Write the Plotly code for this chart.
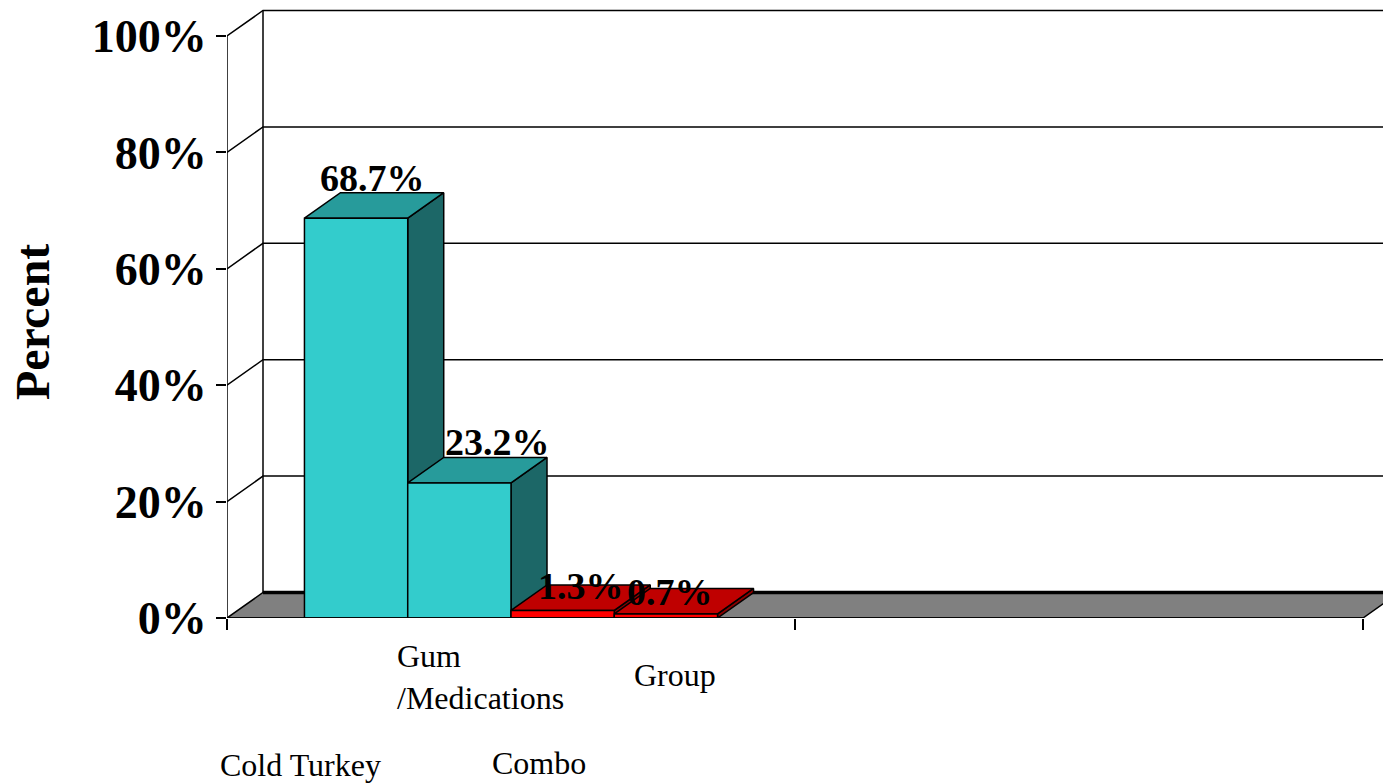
import plotly.graph_objects as go

# Quit-method shares (percent of respondents)
methods = ["Cold Turkey", "Gum\n/Medications", "Combo", "Group"]
shares = [68.7, 23.2, 1.3, 0.7]
value_labels = ["68.7%", "23.2%", "1.3%", "0.7%"]
y_ticks = [0, 20, 40, 60, 80, 100]
y_tick_text = ["0%", "20%", "40%", "60%", "80%", "100%"]

FRONT = ["#33CCCC", "#33CCCC", "#FF0000", "#FF0000"]
TOP = ["#279B9B", "#279B9B", "#BF0000", "#BF0000"]
SIDE = ["#1C6767", "#1C6767", "#8A0000", "#8A0000"]

# figure geometry (pixels)
W, H = 1383, 783
ML, MR, MT, MB = 227, 0, 8, 165
PX_PER_CAT = 568.0
PX_PER_PCT = 5.82
plot_w = W - ML - MR
plot_h = H - MT - MB
X_MAX = plot_w / PX_PER_CAT
Y_MAX = plot_h / PX_PER_PCT

# 3-D depth offset in data units
DX = 36 / PX_PER_CAT
DY = 25.5 / PX_PER_PCT

N_CATS = 2
gap = 1.5
bar_w = 1.0 / (len(shares) + gap)
bar_x0 = [gap / 2 * bar_w + i * bar_w for i in range(len(shares))]

fig = go.Figure()


def poly(xs, ys, fill=None, line_w=1.5, line_color="black"):
    fig.add_trace(go.Scatter(
        x=xs, y=ys, mode="lines",
        fill="toself" if fill else None,
        fillcolor=fill,
        line=dict(color=line_color, width=line_w),
        hoverinfo="skip", showlegend=False,
    ))


# floor
poly([0, N_CATS, N_CATS + DX, X_MAX + DX, DX, 0],
     [0, 0, DY, DY, DY, 0], fill="#808080", line_w=1.5)
# back edge of the floor
poly([DX, X_MAX + DX], [DY, DY], line_w=3.5)

# back wall gridlines and side-wall diagonals
for v in y_ticks[1:]:
    poly([0, DX, X_MAX + DX], [v, v + DY, v + DY], line_w=1.5)
# corner of side and back walls
poly([DX, DX], [DY, 100 + DY], line_w=1.5)
# front value axis
poly([0, 0], [0, 100], line_w=1.5)

# bars: side, top and front face, drawn left to right
for i, v in enumerate(shares):
    x0 = bar_x0[i]
    x1 = x0 + bar_w
    poly([x1, x1 + DX, x1 + DX, x1, x1], [0, DY, v + DY, v, 0], fill=SIDE[i])
    poly([x0, x1, x1 + DX, x0 + DX, x0], [v, v, v + DY, v + DY, v], fill=TOP[i])
    poly([x0, x1, x1, x0, x0], [0, 0, v, v, 0], fill=FRONT[i])

# front edge of the floor
poly([0, N_CATS], [0, 0], line_w=1.5)

annotations = []
label_xshift = [-2, 20, 0, -14]
label_yshift = [-8, -8, -24, -27]
for i, v in enumerate(shares):
    annotations.append(dict(
        x=bar_x0[i] + bar_w / 2 + DX / 2, y=v + DY, xref="x", yref="y",
        text=value_labels[i], showarrow=False, xanchor="center", yanchor="bottom",
        xshift=label_xshift[i], yshift=label_yshift[i],
        font=dict(family="Liberation Serif", size=38, color="black", weight="bold"),
    ))


def px_to_x(p):
    return (p - ML) / PX_PER_CAT


def px_to_paper_y(p):
    return (H - MB - p) / plot_h


# category names, staggered below the floor
cat_pos = [(300, 765, "center", "middle"), (395, 677, "left", "middle"),
           (539, 783, "center", "bottom"), (675, 675, "center", "middle")]
for name, (px, py, xa, ya) in zip(methods, cat_pos):
    annotations.append(dict(
        x=px_to_x(px), y=px_to_paper_y(py), xref="x", yref="paper",
        text=name.replace("\n", "<br>"), showarrow=False, xanchor=xa, yanchor=ya,
        align="left",
        font=dict(family="Liberation Serif", size=32, color="black"),
    ))

annotations.append(dict(
    x=(32 - ML) / plot_w, y=px_to_paper_y(322), xref="paper", yref="paper",
    text="Percent", textangle=-90, showarrow=False, xanchor="center", yanchor="middle",
    font=dict(family="Liberation Serif", size=48, color="black", weight="bold"),
))

fig.update_layout(
    width=W, height=H,
    margin=dict(l=ML, r=MR, t=MT, b=MB),
    paper_bgcolor="white", plot_bgcolor="white",
    showlegend=False,
    annotations=annotations,
    xaxis=dict(range=[0, X_MAX], tickvals=[0, 1, 2], ticks="outside", ticklen=11,
               tickwidth=1.5, tickcolor="black", showticklabels=False,
               showgrid=False, zeroline=False, showline=False, fixedrange=True),
    yaxis=dict(range=[0, Y_MAX], tickvals=y_ticks, ticktext=y_tick_text,
               ticks="outside", ticklen=10, tickwidth=1.5, tickcolor="black",
               showgrid=False, zeroline=False, showline=False, fixedrange=True,
               ticklabelstandoff=0,
               tickfont=dict(family="Liberation Serif", size=46, color="black", weight="bold")),
)

fig.write_html("out.html")
